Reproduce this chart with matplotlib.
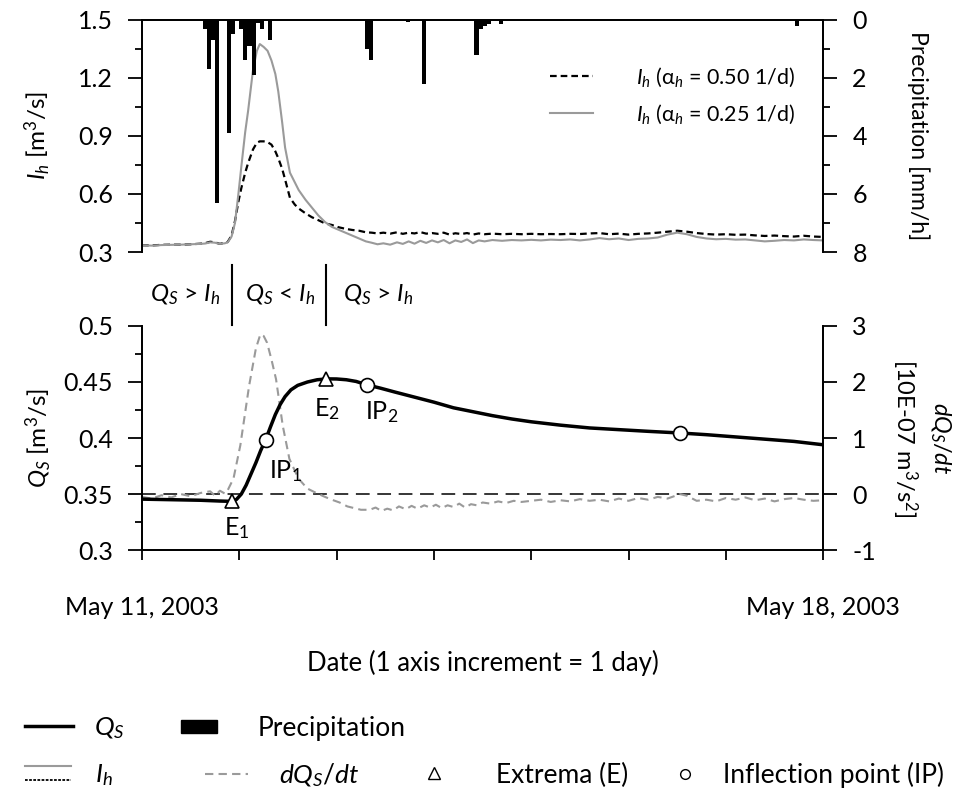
import numpy as np
import matplotlib.pyplot as plt
from matplotlib.lines import Line2D
from matplotlib.patches import Patch
from matplotlib.legend_handler import HandlerBase
from matplotlib.ticker import MultipleLocator, FuncFormatter

plt.rcParams['font.family'] = ['Lato', 'DejaVu Sans']
plt.rcParams['mathtext.fontset'] = 'custom'
plt.rcParams['mathtext.rm'] = 'Lato'
plt.rcParams['mathtext.it'] = 'Lato:italic'
plt.rcParams['mathtext.bf'] = 'Lato:bold'
plt.rcParams['font.size'] = 18
plt.rcParams['axes.unicode_minus'] = False
plt.rcParams['axes.linewidth'] = 1.3

# hourly precipitation (hours since May 11 00:00), mm/h
rain_hours = [15, 16, 17, 18, 21, 22, 24, 25, 26, 27, 28, 29, 31,
              55, 56, 65, 69, 82, 83, 84, 85, 88, 103, 161]
rain_mmh = [0.3, 1.7, 0.7, 6.3, 3.9, 0.5, 0.3, 1.4, 0.9, 1.9, 0.1, 0.3, 0.7,
            1.0, 1.4, 0.07, 2.2, 1.2, 0.3, 0.2, 0.15, 0.15, 0.05, 0.2]

# I_h for two alpha values (days since May 11)
ih_days = [0, 0.1, 0.2, 0.3, 0.4, 0.5, 0.6, 0.65, 0.7, 0.75,
           0.8, 0.85, 0.88, 0.92, 0.955, 0.99, 1.02, 1.06, 1.09, 1.14,
           1.18, 1.21, 1.25, 1.29, 1.33, 1.37, 1.40, 1.44, 1.47, 1.52,
           1.57, 1.61, 1.68, 1.745, 1.81, 1.88, 1.95, 2.02, 2.09, 2.16,
           2.23, 2.30, 2.36, 2.42, 2.48, 2.55, 2.62, 2.68, 2.74, 2.80,
           2.86, 2.92, 2.98, 3.04, 3.10, 3.16, 3.22, 3.28, 3.34, 3.40,
           3.46, 3.52, 3.6, 3.7, 3.8, 3.9, 4.0, 4.1, 4.2, 4.3,
           4.4, 4.5, 4.6, 4.7, 4.8, 4.9, 5.0, 5.1, 5.2, 5.3,
           5.4, 5.5, 5.6, 5.7, 5.8, 5.9, 6.0, 6.1, 6.2, 6.3,
           6.4, 6.5, 6.6, 6.7, 6.8, 6.9, 7.0]
ih_050 = [0.335, 0.334, 0.337, 0.338, 0.338, 0.340, 0.343, 0.346, 0.353, 0.350,
          0.342, 0.348, 0.352, 0.385, 0.46, 0.56, 0.63, 0.71, 0.76, 0.83,
          0.865, 0.872, 0.872, 0.868, 0.855, 0.82, 0.785, 0.73, 0.675, 0.58,
          0.545, 0.525, 0.50, 0.48, 0.465, 0.448, 0.44, 0.428, 0.42, 0.414,
          0.41, 0.402, 0.40, 0.396, 0.40, 0.395, 0.402, 0.394, 0.40, 0.396,
          0.403, 0.395, 0.398, 0.394, 0.40, 0.39, 0.397, 0.393, 0.398, 0.39,
          0.396, 0.392, 0.395, 0.392, 0.394, 0.392, 0.394, 0.392, 0.393, 0.392,
          0.394, 0.393, 0.396, 0.398, 0.392, 0.395, 0.39, 0.394, 0.396, 0.40,
          0.405, 0.41, 0.405, 0.398, 0.393, 0.39, 0.392, 0.389, 0.39, 0.386,
          0.383, 0.385, 0.382, 0.38, 0.384, 0.38, 0.378]
ih_025 = [0.335, 0.333, 0.336, 0.337, 0.338, 0.340, 0.342, 0.344, 0.350, 0.348,
          0.342, 0.345, 0.350, 0.38, 0.45, 0.60, 0.74, 0.92, 1.03, 1.24,
          1.34, 1.375, 1.36, 1.34, 1.29, 1.22, 1.13, 0.97, 0.84, 0.71,
          0.66, 0.62, 0.57, 0.53, 0.49, 0.455, 0.43, 0.415, 0.40, 0.385,
          0.37, 0.355, 0.348, 0.34, 0.345, 0.338, 0.35, 0.342, 0.355, 0.343,
          0.358, 0.347, 0.36, 0.35, 0.362, 0.345, 0.36, 0.352, 0.365, 0.346,
          0.36, 0.355, 0.362, 0.358, 0.362, 0.36, 0.363, 0.36, 0.364, 0.362,
          0.365, 0.36, 0.365, 0.372, 0.366, 0.37, 0.362, 0.368, 0.37, 0.375,
          0.39, 0.40, 0.392, 0.378, 0.37, 0.366, 0.368, 0.364, 0.365, 0.36,
          0.355, 0.358, 0.362, 0.36, 0.365, 0.362, 0.36]

# spring discharge Q_S
qs_days = [0, 0.3, 0.6, 0.8, 0.92, 0.97, 1.02, 1.07, 1.12, 1.17,
           1.22, 1.27, 1.32, 1.37, 1.42, 1.47, 1.53, 1.6, 1.7, 1.8,
           1.9, 2.0, 2.1, 2.2, 2.31, 2.45, 2.6, 2.8, 3.0, 3.2,
           3.4, 3.6, 3.8, 4.0, 4.3, 4.6, 4.9, 5.2, 5.53, 5.8,
           6.1, 6.4, 6.7, 7.0]
qs = [0.3455, 0.345, 0.3445, 0.3438, 0.3435, 0.3452, 0.350, 0.358, 0.368, 0.378,
      0.389, 0.3985, 0.410, 0.421, 0.430, 0.437, 0.443, 0.447, 0.450, 0.452,
      0.4528, 0.4527, 0.452, 0.4505, 0.4475, 0.4445, 0.441, 0.4365, 0.432, 0.427,
      0.4235, 0.420, 0.417, 0.4145, 0.4115, 0.409, 0.4075, 0.406, 0.4045, 0.403,
      0.401, 0.399, 0.397, 0.394]

# dQ_S/dt [10E-07 m3/s2]
dq_days = [0, 0.1, 0.2, 0.3, 0.4, 0.5, 0.6, 0.7, 0.75, 0.8,
           0.85, 0.872, 0.94, 1.01, 1.10, 1.17, 1.216, 1.25, 1.285, 1.33,
           1.377, 1.446, 1.514, 1.606, 1.698, 1.79, 1.88, 1.95, 2.03, 2.11,
           2.18, 2.25, 2.34, 2.40, 2.46, 2.52, 2.58, 2.64, 2.71, 2.77,
           2.83, 2.9, 2.96, 3.02, 3.08, 3.14, 3.2, 3.26, 3.32, 3.38,
           3.44, 3.5, 3.58, 3.66, 3.74, 3.82, 3.9, 4.0, 4.1, 4.2,
           4.3, 4.4, 4.5, 4.6, 4.7, 4.8, 4.9, 5.0, 5.1, 5.2,
           5.3, 5.4, 5.53, 5.6, 5.7, 5.8, 5.9, 6.0, 6.1, 6.2,
           6.3, 6.4, 6.5, 6.6, 6.7, 6.8, 6.9, 7.0]
dqdt = [-0.05, -0.08, -0.02, -0.06, 0.0, -0.04, 0.02, 0.05, -0.03, 0.06,
        0.01, 0.04, 0.28, 0.87, 1.93, 2.6, 2.85, 2.82, 2.70, 2.4,
        2.05, 1.22, 0.63, 0.28, 0.10, 0.02, -0.05, -0.10, -0.15, -0.22,
        -0.25, -0.28, -0.28, -0.24, -0.3, -0.26, -0.29, -0.22, -0.27, -0.21,
        -0.26, -0.2, -0.24, -0.19, -0.25, -0.2, -0.23, -0.17, -0.24, -0.18,
        -0.2, -0.15, -0.17, -0.13, -0.16, -0.12, -0.14, -0.12, -0.1, -0.14,
        -0.11, -0.13, -0.09, -0.12, -0.1, -0.13, -0.08, -0.12, -0.07, -0.1,
        -0.05, -0.08, 0.0, -0.03, -0.12, -0.1, -0.13, -0.07, -0.1, -0.06,
        -0.11, -0.08, -0.13, -0.09, -0.07, -0.1, -0.12, -0.11]

# extrema and inflection points
ext_days = [0.92, 1.895]
ext_q = [0.3435, 0.4528]
ext_names = ['E$_1$', 'E$_2$']
ip_days = [1.27, 2.31, 5.53]
ip_q = [0.3985, 0.4475, 0.4045]
ip_names = ['IP$_1$', 'IP$_2$']

date_labels = ['May 11, 2003', '', '', '', '', '', '', 'May 18, 2003']
gray = '#9a9a9a'

fig = plt.figure(figsize=(9.73, 7.95), dpi=100)
ax1 = fig.add_axes([0.146, 0.683, 0.700, 0.292])
ax2 = fig.add_axes([0.146, 0.308, 0.700, 0.282])

def style_y(ax):
    ax.tick_params(axis='y', which='major', direction='out', length=10, width=1.3, pad=11)
    ax.tick_params(axis='y', which='minor', direction='out', length=5, width=1.3)

# ---- top panel: I_h and precipitation
ax1.plot(ih_days, ih_050, color='black', lw=1.6, dashes=(3, 1.8),
         label='$I_h$ (α$_h$ = 0.50 1/d)')
ax1.plot(ih_days, ih_025, color=gray, lw=1.5, label='$I_h$ (α$_h$ = 0.25 1/d)')
ax1.set_xlim(0, 7)
ax1.set_ylim(0.3, 1.5)
ax1.yaxis.set_major_locator(MultipleLocator(0.3))
ax1.yaxis.set_minor_locator(MultipleLocator(0.15))
ax1.yaxis.set_major_formatter(FuncFormatter(lambda v, p: f'{v:g}'))
ax1.tick_params(axis='x', bottom=False, labelbottom=False)
ax1.spines['bottom'].set_visible(False)
style_y(ax1)
ax1.set_ylabel('$I_h$ [m$^3$/s]', fontsize=17.5)
ax1.yaxis.set_label_coords(-0.131, 0.5)

ax1p = ax1.twinx()
ax1p.bar(np.array(rain_hours) / 24, rain_mmh, width=1 / 24, align='edge', color='black')
ax1p.set_ylim(8, 0)
ax1p.yaxis.set_major_locator(MultipleLocator(2))
ax1p.yaxis.set_minor_locator(MultipleLocator(1))
ax1p.spines['bottom'].set_visible(False)
style_y(ax1p)
ax1p.set_ylabel('Precipitation [mm/h]', rotation=270, va='center', fontsize=16.5)
ax1p.yaxis.set_label_coords(1.14, 0.5)
ax1p.legend(*ax1.get_legend_handles_labels(), loc='center right',
            bbox_to_anchor=(0.975, 0.673), frameon=False, borderpad=0,
            fontsize=15.5, handlelength=2.0, handletextpad=2.0, labelspacing=0.6)

# ---- bottom panel: Q_S and dQ_S/dt
ax2d = ax2.twinx()
ax2.set_zorder(ax2d.get_zorder() + 1)
ax2.patch.set_visible(False)

ax2d.axhline(0, color='black', lw=1.1, dashes=(9, 5))
ax2d.plot(dq_days, dqdt, color=gray, lw=1.5, dashes=(4, 2.5))
ax2d.set_ylim(-1, 3)
ax2d.yaxis.set_major_locator(MultipleLocator(1))
ax2d.spines['top'].set_visible(False)
style_y(ax2d)
ax2d.set_ylabel('$dQ_S/dt$\n[10E-07 m$^3$/s$^2$]', rotation=270, va='center',
                linespacing=1.35, fontsize=17)
ax2d.yaxis.set_label_coords(1.144, 0.5)

ax2.plot(qs_days, qs, color='black', lw=2.5)
ax2.plot(ext_days, ext_q, '^', ms=10, mfc='white', mec='black', mew=1.2)
ax2.plot(ip_days, ip_q, 'o', ms=10, mfc='white', mec='black', mew=1.2)
ax2.set_xlim(0, 7)
ax2.set_ylim(0.3, 0.5)
ax2.yaxis.set_major_locator(MultipleLocator(0.05))
ax2.yaxis.set_minor_locator(MultipleLocator(0.025))
ax2.yaxis.set_major_formatter(FuncFormatter(lambda v, p: f'{v:g}'))
ax2.spines['top'].set_visible(False)
style_y(ax2)
ax2.set_xticks(range(8))
ax2.set_xticklabels(date_labels)
ax2.tick_params(axis='x', direction='out', length=7, width=1.3, pad=26)
ax2.set_ylabel('$Q_S$ [m$^3$/s]', fontsize=17.5)
ax2.yaxis.set_label_coords(-0.131, 0.5)
ax2.set_xlabel('Date (1 axis increment = 1 day)', fontsize=18.5)
ax2.xaxis.set_label_coords(0.5, -0.445)

ax2.text(ext_days[0] + 0.05, 0.3195, ext_names[0], ha='center', va='center')
ax2.text(ext_days[1] + 0.01, 0.4263, ext_names[1], ha='center', va='center')
ax2.text(ip_days[0] + 0.2, 0.371, ip_names[0], ha='center', va='center')
ax2.text(ip_days[1] + 0.15, 0.4235, ip_names[1], ha='center', va='center')

# zones between the panels
xt = ax2.get_xaxis_transform()
for d in ext_days:
    ax2.plot([d, d], [1.005, 1.27], transform=xt, color='black', lw=1.5, clip_on=False)
for d, s in zip([0.44, 1.42, 2.43], ['$Q_S$ > $I_h$', '$Q_S$ < $I_h$', '$Q_S$ > $I_h$']):
    ax2.text(d, 1.14, s, transform=xt, ha='center', va='center', fontsize=17.5)

# ---- legend below
class DoubleLine(HandlerBase):
    def create_artists(self, legend, orig_handle, xdescent, ydescent, width,
                       height, fontsize, trans):
        x = [-xdescent, width - xdescent]
        top = Line2D(x, [height * 0.85 - ydescent] * 2, color=gray, lw=1.5)
        bot = Line2D(x, [height * 0.1 - ydescent] * 2, color='black', lw=1.3,
                     dashes=(1.5, 0.8))
        top.set_transform(trans)
        bot.set_transform(trans)
        return [top, bot]


def key(handle, label, x, y, hl, pad, **kw):
    fig.legend([handle], [label], loc='center left', bbox_to_anchor=(x, y),
               frameon=False, borderpad=0, borderaxespad=0, fontsize=19,
               handlelength=hl, handletextpad=pad, **kw)

ih_handle = Line2D([], [])
row1, row2 = 0.084, 0.025
key(Line2D([], [], color='black', lw=2.5), '$Q_S$', 25 / 973, row1, 1.82, 0.8)
key(Patch(color='black'), 'Precipitation', 181 / 973, row1, 1.36, 1.55, handleheight=0.4)
key(ih_handle, '$I_h$', 25 / 973, row2, 1.75, 0.9, handler_map={ih_handle: DoubleLine()})
key(Line2D([], [], color=gray, lw=1.5, dashes=(4, 2.5)), '$dQ_S/dt$', 205 / 973, row2, 1.63, 1.17)
key(Line2D([], [], ls='', marker='^', ms=8, mfc='white', mec='black'), 'Extrema (E)',
    413 / 973, row2, 1.6, 1.55)
key(Line2D([], [], ls='', marker='o', ms=7, mfc='white', mec='black'), 'Inflection point (IP)',
    664 / 973, row2, 1.6, 0.64)

fig.savefig('out.png', dpi=100)
